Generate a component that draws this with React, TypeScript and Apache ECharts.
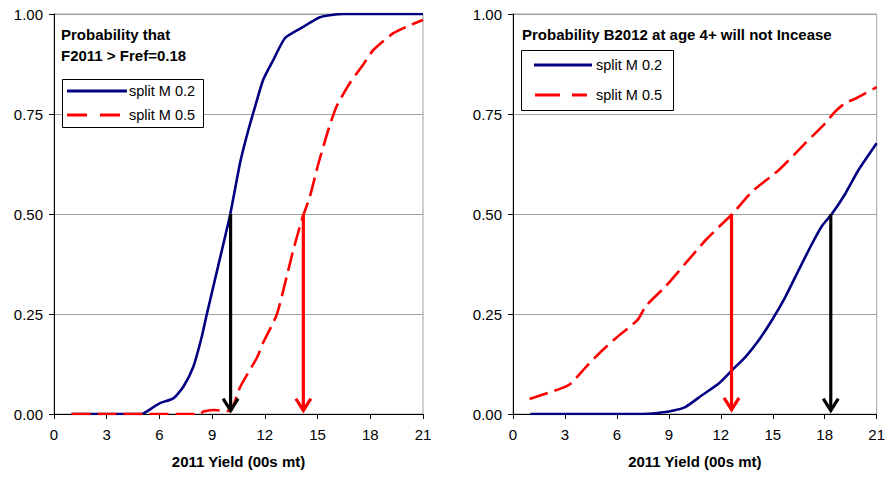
import React, { useEffect, useRef } from "react";
import * as echarts from "echarts";

// ---- Data ----
const xTicksMax = 21;
const yTickLabels = ["0.00", "0.25", "0.50", "0.75", "1.00"];

// Left panel: Probability that F2011 > Fref=0.18
const leftM02X = [1, 2, 3, 4, 5, 5.27, 6.03, 6.79, 7.36, 7.93, 8.41, 8.69, 9.45, 10.02, 10.6, 11.0, 11.44, 11.9, 12.48, 13.15, 14.19, 15.14, 16.47, 18, 21];
const leftM02Y = [0, 0, 0, 0, 0, 0.006, 0.027, 0.039, 0.068, 0.118, 0.193, 0.248, 0.39, 0.4975, 0.63, 0.7, 0.768, 0.835, 0.885, 0.94, 0.968, 0.992, 1.0, 1.0, 1.0];
const leftM05X = [1, 3, 5, 7, 8.3, 8.5, 9.07, 9.83, 10.1, 10.6, 11.54, 11.9, 12.67, 13.24, 13.62, 14.1, 14.57, 15.04, 15.61, 16.09, 16.85, 17.6, 18.17, 19.31, 20.26, 21];
const leftM05Y = [0, 0, 0, 0, 0, 0.006, 0.01, 0.0075, 0.01, 0.068, 0.14, 0.178, 0.2475, 0.343, 0.41, 0.485, 0.545, 0.625, 0.71, 0.77, 0.828, 0.874, 0.91, 0.952, 0.972, 0.985];
const leftArrowX = [10.05, 14.19];
const leftArrowTop = [0.5, 0.5];
const leftArrowTip = [0.006, 0.006];
const leftArrowColor = ["#000000", "#FF0000"];

// Right panel: Probability B2012 at age 4+ will not Incease
const rightM02X = [1, 3, 5, 7, 7.46, 8.25, 9.2, 9.97, 10.93, 11.9, 12.66, 13.43, 14.2, 14.96, 15.73, 16.5, 17.26, 17.84, 18.41, 19.18, 19.95, 21];
const rightM02Y = [0, 0, 0, 0, 0, 0.002, 0.008, 0.018, 0.0475, 0.077, 0.11, 0.143, 0.185, 0.235, 0.293, 0.36, 0.425, 0.47, 0.5, 0.55, 0.61, 0.677];
const rightM05X = [0.96, 2.78, 3.36, 4.22, 4.99, 5.95, 7.19, 7.67, 8.83, 9.97, 11.13, 11.9, 12.66, 13.81, 15.35, 16.88, 18.03, 18.6, 19.18, 19.85, 21];
const rightM05Y = [0.0375, 0.064, 0.077, 0.118, 0.152, 0.19, 0.235, 0.27, 0.32, 0.377, 0.435, 0.468, 0.5, 0.556, 0.61, 0.677, 0.727, 0.756, 0.777, 0.79, 0.817];
const rightArrowX = [12.62, 18.35];
const rightArrowTop = [0.5, 0.5];
const rightArrowTip = [0.008, 0.006];
const rightArrowColor = ["#FF0000", "#000000"];

const leftTitle = ["Probability that", "F2011 > Fref=0.18"];
const rightTitle = "Probability B2012 at age 4+ will not Incease";
const seriesNames = ["split M 0.2", "split M 0.5"];
const xAxisName = "2011 Yield (00s mt)";

const FONT = "'Liberation Sans', Arial, sans-serif";
const BLUE = "#000080";
const RED = "#FF0000";

const zip = (xs: number[], ys: number[]) => xs.map((x, i) => [x, ys[i]]);

function arrowSeries(xIdx: number, xs: number[], tops: number[], tips: number[], colors: string[]) {
  return {
    type: "custom",
    xAxisIndex: xIdx,
    yAxisIndex: xIdx,
    silent: true,
    z: 5,
    data: xs.map((x, i) => [x, tops[i], tips[i]]),
    renderItem: (params: any, api: any) => {
      const c = colors[params.dataIndex];
      const top = api.coord([api.value(0), api.value(1)]);
      const bot = api.coord([api.value(0), api.value(2)]);
      return {
        type: "group",
        children: [
          { type: "line", shape: { x1: top[0], y1: top[1], x2: bot[0], y2: bot[1] - 1 }, style: { stroke: c, lineWidth: 3.2 } },
          {
            type: "polyline",
            shape: { points: [[bot[0] - 7.5, bot[1] - 13], [bot[0], bot[1] - 1], [bot[0] + 7.5, bot[1] - 13]] },
            style: { stroke: c, lineWidth: 3.2, fill: "none" },
          },
        ],
      };
    },
  };
}

function xAxisCfg(gridIndex: number) {
  return {
    type: "value",
    gridIndex,
    min: 0,
    max: xTicksMax,
    interval: 3,
    name: xAxisName,
    nameLocation: "middle",
    nameGap: 40,
    nameTextStyle: { fontFamily: FONT, fontSize: 15, fontWeight: "bold", color: "#000" },
    axisLine: { show: true, onZero: false, lineStyle: { color: "#000", width: 1 } },
    axisTick: { show: true, length: 5, lineStyle: { color: "#000" } },
    axisLabel: { fontFamily: FONT, fontSize: 15, color: "#000", margin: 13 },
    splitLine: { show: false },
  };
}

function yAxisCfg(gridIndex: number) {
  return {
    type: "value",
    gridIndex,
    min: 0,
    max: 1,
    interval: 0.25,
    axisLine: { show: true, lineStyle: { color: "#000", width: 1 } },
    axisTick: { show: true, length: 5, lineStyle: { color: "#000" } },
    axisLabel: {
      fontFamily: FONT,
      fontSize: 15,
      color: "#000",
      margin: 11,
      formatter: (v: number) => yTickLabels[Math.round(v / 0.25)],
    },
    splitLine: { show: true, lineStyle: { color: "#A0A0A0", width: 1 } },
  };
}

function lineSeries(idx: number, name: string, data: number[][], color: string, dashed: boolean) {
  return {
    type: "line",
    name,
    xAxisIndex: idx,
    yAxisIndex: idx,
    data,
    showSymbol: false,
    symbol: "none",
    smooth: 0.2,
    lineStyle: { color, width: 2.6, type: dashed ? [19, 7] : "solid" },
    z: 3,
  };
}

export default function App() {
  const ref = useRef<HTMLDivElement>(null);
  useEffect(() => {
    if (!ref.current) return;
    const chart = echarts.init(ref.current, undefined, { renderer: "svg" });
    const textStyle = { fontFamily: FONT, fontSize: 14.5, fill: "#000", textVerticalAlign: "middle" };
    chart.setOption({
      animation: false,
      backgroundColor: "#fff",
      grid: [
        { left: 54, right: 465, top: 14, bottom: 63, show: true, borderColor: "#A0A0A0", borderWidth: 1 },
        { left: 513, right: 10, top: 14, bottom: 63, show: true, borderColor: "#A0A0A0", borderWidth: 1 },
      ],
      xAxis: [xAxisCfg(0), xAxisCfg(1)],
      yAxis: [yAxisCfg(0), yAxisCfg(1)],
      series: [
        lineSeries(0, seriesNames[0], zip(leftM02X, leftM02Y), BLUE, false),
        lineSeries(0, seriesNames[1], zip(leftM05X, leftM05Y), RED, true),
        lineSeries(1, seriesNames[0], zip(rightM02X, rightM02Y), BLUE, false),
        lineSeries(1, seriesNames[1], zip(rightM05X, rightM05Y), RED, true),
        arrowSeries(0, leftArrowX, leftArrowTop, leftArrowTip, leftArrowColor),
        arrowSeries(1, rightArrowX, rightArrowTop, rightArrowTip, rightArrowColor),
      ],
      graphic: [
        // Left title
        { type: "text", left: 61, top: 27, z: 10, style: { text: leftTitle[0], font: `bold 15px ${FONT}`, fill: "#000" } },
        { type: "text", left: 61, top: 48, z: 10, style: { text: leftTitle[1], font: `bold 15px ${FONT}`, fill: "#000" } },
        // Left legend
        { type: "rect", z: 10, shape: { x: 62.5, y: 79.5, width: 141, height: 48 }, style: { fill: "#fff", stroke: "#000", lineWidth: 1 } },
        { type: "line", z: 11, shape: { x1: 67, y1: 91, x2: 127, y2: 91 }, style: { stroke: BLUE, lineWidth: 3 } },
        { type: "line", z: 11, shape: { x1: 67, y1: 115, x2: 120, y2: 115 }, style: { stroke: RED, lineWidth: 3, lineDash: [20, 13] } },
        { type: "text", z: 11, x: 129, y: 91, style: { ...textStyle, text: seriesNames[0], font: `14.5px ${FONT}`, verticalAlign: "middle" } },
        { type: "text", z: 11, x: 129, y: 115, style: { ...textStyle, text: seriesNames[1], font: `14.5px ${FONT}`, verticalAlign: "middle" } },
        // Right title
        { type: "text", z: 10, x: 522, y: 34, style: { text: rightTitle, font: `bold 15px ${FONT}`, fill: "#000", verticalAlign: "middle" } },
        // Right legend
        { type: "rect", z: 10, shape: { x: 521.5, y: 50.5, width: 152, height: 60 }, style: { fill: "#fff", stroke: "#000", lineWidth: 1 } },
        { type: "line", z: 11, shape: { x1: 534, y1: 65, x2: 592, y2: 65 }, style: { stroke: BLUE, lineWidth: 3 } },
        { type: "line", z: 11, shape: { x1: 535, y1: 95, x2: 587, y2: 95 }, style: { stroke: RED, lineWidth: 3, lineDash: [25, 12] } },
        { type: "text", z: 11, x: 596, y: 65, style: { ...textStyle, text: seriesNames[0], font: `14.5px ${FONT}`, verticalAlign: "middle" } },
        { type: "text", z: 11, x: 596, y: 95, style: { ...textStyle, text: seriesNames[1], font: `14.5px ${FONT}`, verticalAlign: "middle" } },
      ],
    });
    return () => chart.dispose();
  }, []);
  return <div ref={ref} style={{ width: 888, height: 477, position: "absolute", left: 0, top: 0 }} />;
}
